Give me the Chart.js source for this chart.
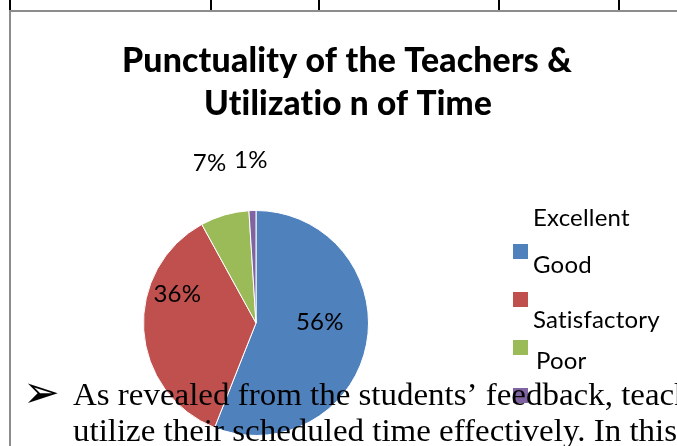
<!DOCTYPE html>
<html>
<head>
<meta charset="utf-8">
<script src="https://cdn.jsdelivr.net/npm/chart.js@4/dist/chart.umd.min.js"></script>
<style>
  html, body { margin: 0; padding: 0; background: #ffffff; }
  #wrap { position: relative; width: 677px; height: 446px; overflow: hidden; }
  canvas { display: block; }
</style>
</head>
<body>
<div id="wrap"><canvas id="c" width="677" height="446"></canvas></div>
<script>
// ---- data ----
const categories = ['Excellent', 'Good', 'Satisfactory', 'Poor'];
const shares = [56, 36, 7, 1];
const shareLabels = ['56%', '36%', '7%', '1%'];
const titleLines = ['Punctuality of the Teachers &', 'Utilizatio n of Time'];
const docLines = ['As revealed from the students\u2019 feedback, teachers', 'utilize their scheduled time effectively. In this regard'];
const docFitText = 'utilize their scheduled time effectively. In this';

// ---- styles / layout ----
const sliceColors = ['#4F81BD', '#C0504D', '#9BBB59', '#8064A2'];
const labelPlacement = [
  { r: 0.567, da: -0.204 },
  { r: 0.745, da: 0.414 },
  { r: 1.478, da: 0.0 },
  { r: 1.444, da: 0.0 }
];
const legendLayout = { boxX: 513, boxTop: 244, step: 48, box: 15, textX: 533, textDy: [-33, -34, -27, -34], textDx: [0, 0, 0, 3] };

function noLig(ctx) { if ('letterSpacing' in ctx) ctx.letterSpacing = '0.2px'; }

function fitText(ctx, text, x, y, targetW, align) {
  const w = ctx.measureText(text).width;
  const k = targetW / w;
  ctx.save();
  ctx.translate(x, y);
  ctx.scale(k, 1);
  ctx.textAlign = align;
  ctx.fillText(text, 0, 0);
  ctx.restore();
  return k;
}

const decor = {
  id: 'decor',
  afterDatasetsDraw(chart) {
    const ctx = chart.ctx;
    const meta = chart.getDatasetMeta(0);
    // data labels
    ctx.save();
    ctx.fillStyle = '#000';
    ctx.font = '24px Lato';
    noLig(ctx);
    ctx.textAlign = 'center';
    ctx.textBaseline = 'middle';
    meta.data.forEach((arc, i) => {
      const p = arc.getProps(['x', 'y', 'startAngle', 'endAngle', 'outerRadius'], true);
      const a = (p.startAngle + p.endAngle) / 2 + labelPlacement[i].da;
      const r = p.outerRadius * labelPlacement[i].r;
      ctx.fillText(shareLabels[i], p.x + Math.cos(a) * r, p.y + Math.sin(a) * r);
    });
    ctx.restore();

    // legend (offset layout as in the reference)
    ctx.save();
    ctx.font = '24px Lato';
    noLig(ctx);
    ctx.textBaseline = 'middle';
    ctx.textAlign = 'left';
    categories.forEach((name, i) => {
      const top = legendLayout.boxTop + i * legendLayout.step;
      ctx.fillStyle = sliceColors[i];
      ctx.fillRect(legendLayout.boxX, top, legendLayout.box, legendLayout.box);
      ctx.fillStyle = '#000';
      ctx.fillText(name, legendLayout.textX + legendLayout.textDx[i], top + legendLayout.box / 2 + legendLayout.textDy[i]);
    });
    ctx.restore();

    // title
    ctx.save();
    ctx.fillStyle = '#000';
    ctx.font = '900 34px Lato';
    noLig(ctx);
    ctx.textBaseline = 'alphabetic';
    fitText(ctx, titleLines[0], 347, 72, 450, 'center');
    fitText(ctx, titleLines[1], 348, 115, 288, 'center');
    ctx.restore();
  },
  afterDraw(chart) {
    const ctx = chart.ctx;
    ctx.save();
    // table borders
    ctx.fillStyle = '#000';
    [9, 210, 318, 498, 618].forEach(x => ctx.fillRect(x, 0, 2, 10));
    ctx.fillStyle = '#8c8c8c';
    ctx.fillRect(9, 10, 668, 2);
    ctx.fillRect(9, 10, 2, 436);

    // document text over the chart
    ctx.fillStyle = '#000';
    ctx.font = '32px "Liberation Serif"';
    ctx.textBaseline = 'alphabetic';
    const k = 604 / ctx.measureText(docFitText).width;
    [405, 441].forEach((y, i) => {
      ctx.save();
      ctx.translate(73, y);
      ctx.scale(k, 1);
      ctx.textAlign = 'left';
      ctx.fillText(docLines[i], 0, 0);
      ctx.restore();
    });
    ctx.font = 'bold 44px "DejaVu Sans"';
    ctx.fillText('\u27A2', 23, 407);
    ctx.restore();
  }
};

new Chart(document.getElementById('c'), {
  type: 'pie',
  data: {
    labels: categories,
    datasets: [{
      data: shares,
      backgroundColor: sliceColors,
      borderColor: '#ffffff',
      borderWidth: 1
    }]
  },
  options: {
    responsive: false,
    animation: false,
    layout: { padding: { left: 143, right: 308, top: 210, bottom: 10 } },
    plugins: {
      legend: { display: false },
      title: { display: false },
      tooltip: { enabled: false }
    }
  },
  plugins: [decor]
});
</script>
</body>
</html>
